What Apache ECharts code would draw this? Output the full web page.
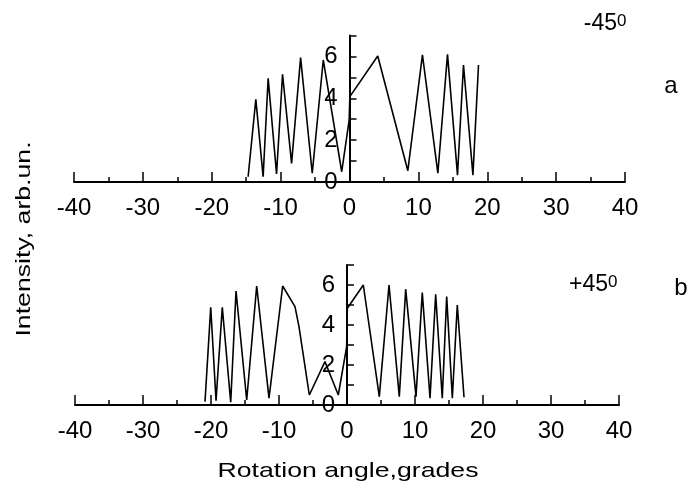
<!DOCTYPE html>
<html>
<head>
<meta charset="utf-8">
<script src="https://cdn.jsdelivr.net/npm/echarts@6/dist/echarts.min.js"></script>
<style>
  html, body { margin: 0; padding: 0; background: #fff; }
  #chart { width: 690px; height: 485px; }
</style>
</head>
<body>
<div id="chart"></div>
<script>
// Panel a: polarizer at -45 degrees
var angleA = [-14.72, -13.6, -12.54, -11.81, -10.59, -9.72, -8.41, -7.10, -5.41, -3.81, -1.13, -0.05, 0.05, 4.10, 8.47, 10.59, 12.83, 14.23, 15.68, 16.55, 17.92, 18.73];
var intensityA = [0.25, 3.95, 0.25, 4.95, 0.38, 5.15, 0.89, 5.94, 0.42, 5.83, 0.49, 2.96, 4.08, 6.02, 0.54, 6.07, 0.42, 6.10, 0.33, 5.59, 0.33, 5.59];

// Panel b: polarizer at +45 degrees
var angleB = [-20.88, -20.04, -19.26, -18.34, -17.10, -16.32, -14.75, -13.28, -11.47, -9.46, -7.65, -7.06, -5.54, -3.24, -1.28, -0.05, 0.05, 2.4, 4.75, 6.18, 7.69, 8.63, 10.15, 11.07, 12.21, 13.04, 14.01, 14.66, 15.49, 16.22, 17.21];
var intensityB = [0.17, 4.89, 0.22, 4.89, 0.14, 5.70, 0.25, 5.95, 0.34, 5.95, 4.92, 3.92, 0.50, 2.17, 0.50, 2.92, 4.84, 6.0, 0.42, 6.0, 0.42, 5.79, 0.42, 5.62, 0.34, 5.54, 0.34, 5.42, 0.34, 5.0, 0.39];

// Axis ranges and labelled ticks
var angleTicks = [-40, -30, -20, -10, 0, 10, 20, 30, 40];
var intensityTicks = [0, 2, 4, 6];
var intensityMax = 7;

// Text
var xTitle = 'Rotation angle,grades';
var yTitle = 'Intensity, arb.un.';
var panelAngles = ['-45', '+45'];
var panelLetters = ['a', 'b'];

var FONT = "'Liberation Sans', Arial, Helvetica, sans-serif";

// Panel frames: left edge, width (angle -40..40), top, height (intensity 0..7)
var panels = [
  { left: 74, width: 551, top: 35.5, height: 146.5 },
  { left: 75, width: 544, top: 265, height: 140 }
];

function pairs(xs, ys) {
  return xs.map(function (x, i) { return [x, ys[i]]; });
}

function xAxisFor(gridIndex) {
  return {
    type: 'value', gridIndex: gridIndex,
    min: angleTicks[0], max: angleTicks[angleTicks.length - 1], interval: 10,
    axisLine: { show: true, onZero: false, lineStyle: { color: '#000', width: 2 } },
    axisTick: { show: true, inside: true, length: 10, lineStyle: { color: '#000', width: 1.5 } },
    minorTick: { show: true, splitNumber: 2, length: 5, lineStyle: { color: '#000', width: 1.5 } },
    splitLine: { show: false },
    axisLabel: {
      show: true, margin: 14, color: '#000', fontSize: 24, fontFamily: FONT,
      formatter: function (v) { return angleTicks.indexOf(v) >= 0 ? String(v) : ''; }
    }
  };
}

// The intensity axis stands at angle 0, i.e. half the panel width in from the left edge
function yAxisFor(gridIndex) {
  return {
    type: 'value', gridIndex: gridIndex, position: 'left',
    offset: -panels[gridIndex].width / 2,
    min: 0, max: intensityMax, interval: 1,
    axisLine: { show: true, onZero: false, lineStyle: { color: '#000', width: 2 } },
    axisTick: { show: true, inside: true, length: 7, lineStyle: { color: '#000', width: 1.5 } },
    splitLine: { show: false },
    axisLabel: {
      show: true, margin: 12, color: '#000', fontSize: 24, fontFamily: FONT,
      formatter: function (v) { return intensityTicks.indexOf(v) >= 0 ? String(v) : ''; }
    }
  };
}

function lineSeries(idx, data) {
  return {
    type: 'line', xAxisIndex: idx, yAxisIndex: idx, data: data,
    symbol: 'none', smooth: false, animation: false,
    lineStyle: { color: '#000', width: 1.6 }
  };
}

function txt(x, y, text, size, opts) {
  opts = opts || {};
  return {
    type: 'text', x: x, y: y, rotation: opts.rotation || 0,
    scaleX: opts.scaleX || 1,
    style: {
      text: text, fill: '#000', font: size + 'px ' + FONT,
      textAlign: opts.align || 'center', textVerticalAlign: 'middle'
    }
  };
}

var chart = echarts.init(document.getElementById('chart'), null, { renderer: 'canvas' });
chart.setOption({
  backgroundColor: '#fff',
  animation: false,
  grid: panels.map(function (p) {
    return { left: p.left, width: p.width, top: p.top, height: p.height };
  }),
  xAxis: [xAxisFor(0), xAxisFor(1)],
  yAxis: [yAxisFor(0), yAxisFor(1)],
  series: [
    lineSeries(0, pairs(angleA, intensityA)),
    lineSeries(1, pairs(angleB, intensityB))
  ],
  graphic: [
    txt(617, 24, panelAngles[0], 23, { align: 'right' }),
    txt(617, 21, '0', 17, { align: 'left' }),
    txt(671, 86, panelLetters[0], 24),
    txt(608, 285, panelAngles[1], 23, { align: 'right' }),
    txt(608, 282, '0', 17, { align: 'left' }),
    txt(681, 288, panelLetters[1], 24),
    txt(348, 471, xTitle, 21, { scaleX: 1.27 }),
    txt(24, 239, yTitle, 21, { rotation: Math.PI / 2, scaleX: 1.27 })
  ]
});
</script>
</body>
</html>
